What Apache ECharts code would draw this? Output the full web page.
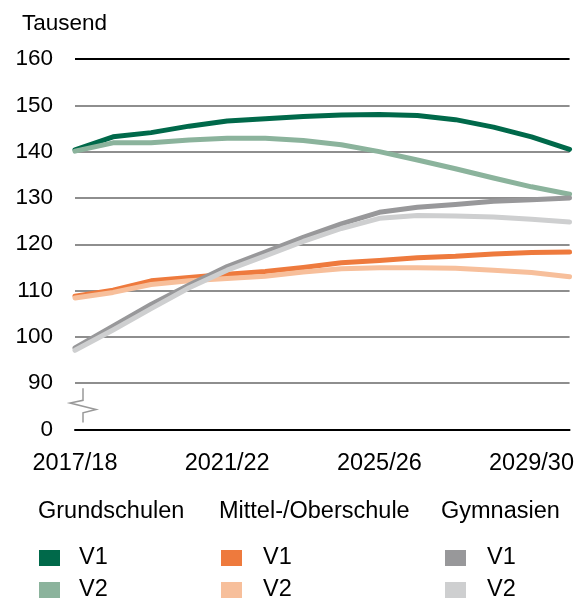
<!DOCTYPE html>
<html>
<head>
<meta charset="utf-8">
<script src="https://cdn.jsdelivr.net/npm/echarts@6/dist/echarts.min.js"></script>
<style>
html,body{margin:0;padding:0;background:#fff;}
#chart{width:577px;height:601px;}
</style>
</head>
<body>
<div id="chart"></div>
<script>
var years = ['2017/18','2018/19','2019/20','2020/21','2021/22','2022/23','2023/24','2024/25','2025/26','2026/27','2027/28','2028/29','2029/30','2030/31'];
var yTicks = [80, 90, 100, 110, 120, 130, 140, 150, 160];
var grundV1 = [140.4, 143.2, 144.1, 145.5, 146.6, 147.1, 147.6, 147.9, 148.0, 147.8, 146.9, 145.3, 143.2, 140.5];
var grundV2 = [140.1, 141.9, 141.9, 142.5, 142.9, 142.9, 142.4, 141.5, 140.0, 138.2, 136.3, 134.3, 132.4, 130.8];
var mittelV1 = [108.8, 110.1, 112.1, 112.8, 113.5, 114.1, 115.0, 116.0, 116.5, 117.1, 117.4, 117.9, 118.2, 118.3];
var mittelV2 = [108.4, 109.6, 111.3, 112.1, 112.6, 113.1, 114.0, 114.7, 114.9, 114.9, 114.8, 114.4, 113.9, 113.0];
var gymV1 = [97.6, 102.3, 107.0, 111.2, 115.2, 118.3, 121.5, 124.4, 126.9, 128.0, 128.6, 129.3, 129.6, 130.0];
var gymV2 = [97.1, 101.5, 106.1, 110.6, 114.4, 117.5, 120.6, 123.4, 125.6, 126.2, 126.1, 125.9, 125.4, 124.8];
var groups = ['Grundschulen', 'Mittel-/Oberschule', 'Gymnasien'];
var variants = ['V1', 'V2'];

var FONT = '"Liberation Sans", Arial, sans-serif';
var colors = {
  'Grundschulen V1': '#00694A',
  'Grundschulen V2': '#8BB39C',
  'Mittel-/Oberschule V1': '#EE7A3D',
  'Mittel-/Oberschule V2': '#F7BF9B',
  'Gymnasien V1': '#98989A',
  'Gymnasien V2': '#CECFD0'
};
var seriesData = {
  'Grundschulen V1': grundV1,
  'Grundschulen V2': grundV2,
  'Mittel-/Oberschule V1': mittelV1,
  'Mittel-/Oberschule V2': mittelV2,
  'Gymnasien V1': gymV1,
  'Gymnasien V2': gymV2
};

var series = [];
groups.forEach(function (g) {
  variants.forEach(function (v) {
    var name = g + ' ' + v;
    series.push({
      name: name,
      type: 'line',
      data: seriesData[name],
      showSymbol: false,
      symbol: 'none',
      color: colors[name],
      lineStyle: { width: 5, color: colors[name], cap: 'round', join: 'round' },
      z: 3,
      animation: false
    });
  });
});

var legendLefts = [39, 221, 445];
var legendPad = [14, 16, 16];
var legendTops = [546, 578];
var legends = [];
groups.forEach(function (g, i) {
  variants.forEach(function (v, j) {
    legends.push({
      orient: 'horizontal',
      left: legendLefts[i],
      top: legendTops[j],
      itemWidth: 21,
      itemHeight: 16,
      icon: 'rect',
      selectedMode: false,
      padding: 0,
      data: [g + ' ' + v],
      formatter: function (n) { return n.split(' ').pop(); },
      textStyle: { fontFamily: FONT, fontSize: 23.5, color: '#000', lineHeight: 16, padding: [5, 0, 0, legendPad[i]] }
    });
  });
});

var headerLefts = [38, 219, 441];
var graphics = [{
  type: 'text', left: 22, top: 12,
  style: { text: 'Tausend', font: '22.5px ' + FONT, fill: '#000' }
}];
groups.forEach(function (g, i) {
  graphics.push({
    type: 'text', left: headerLefts[i], top: 500,
    style: { text: g, font: '23.5px ' + FONT, fill: '#000' }
  });
});

var chart = echarts.init(document.getElementById('chart'), null, { renderer: 'canvas' });
var option = {
  animation: false,
  backgroundColor: '#fff',
  grid: { left: 75, right: 6, top: 59, bottom: 171.5, containLabel: false },
  xAxis: {
    type: 'category',
    data: years,
    boundaryGap: false,
    axisLine: { show: true, lineStyle: { color: '#000', width: 2 } },
    axisTick: { show: false },
    axisLabel: { interval: 3, margin: 22, fontFamily: FONT, fontSize: 23.5, color: '#000' },
    splitLine: { show: false },
    z: 5
  },
  yAxis: {
    type: 'value',
    min: yTicks[0],
    max: yTicks[yTicks.length - 1],
    interval: 10,
    axisLine: { show: false },
    axisTick: { show: false },
    axisLabel: {
      margin: 22, fontFamily: FONT, fontSize: 22.5, color: '#000',
      formatter: function (v) { return v === yTicks[0] ? '0' : String(v); }
    },
    splitLine: {
      show: true,
      lineStyle: { width: 2, color: ['#000', '#8E8E8E', '#8E8E8E', '#8E8E8E', '#8E8E8E', '#8E8E8E', '#8E8E8E', '#8E8E8E', '#000'] }
    }
  },
  legend: legends,
  series: series,
  graphic: graphics
};
chart.setOption(option);

// axis break symbol between 0 and 90
var x0 = chart.convertToPixel({ xAxisIndex: 0 }, 0) + 8;
var yTop = chart.convertToPixel({ yAxisIndex: 0 }, 88.9);
var yBot = chart.convertToPixel({ yAxisIndex: 0 }, 81.5);
var yA = chart.convertToPixel({ yAxisIndex: 0 }, 86.3);
var yB = chart.convertToPixel({ yAxisIndex: 0 }, 85.7);
var yC = chart.convertToPixel({ yAxisIndex: 0 }, 84.3);
var yD = chart.convertToPixel({ yAxisIndex: 0 }, 83.6);
graphics.push({
  type: 'polyline',
  shape: { points: [[x0, yTop], [x0, yA], [x0 - 13, yB], [x0 + 13, yC], [x0, yD], [x0, yBot]] },
  style: { stroke: '#999', lineWidth: 1.5, fill: null },
  z: 10
});
chart.setOption({ graphic: graphics });
</script>
</body>
</html>
